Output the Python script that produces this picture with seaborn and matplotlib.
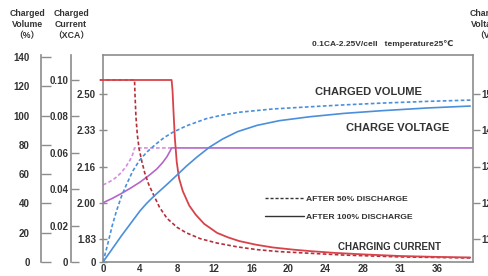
import matplotlib
matplotlib.use("Agg")
import matplotlib.pyplot as plt
import seaborn as sns
import pandas as pd
from matplotlib.lines import Line2D

# ---------------- data ----------------
hour_ticks = [0, 4, 8, 12, 16, 20, 24, 28, 32, 36]
hour_labels = ["0", "4", "8", "12", "16", "20", "24", "28", "31", "36"]

volume_ticks = [0, 20, 40, 60, 80, 100, 120, 140]
current_ticks = [0, 0.02, 0.04, 0.06, 0.08, 0.10]
current_labels = ["0", "0.02", "0.04", "0.06", "0.08", "0.10"]
battery_v_ticks = [11, 12, 13, 14, 15]
battery_v_labels = ["11", "12", "13", "14", "15"]
cell_v_labels = ["0", "1.83", "2.00", "2.16", "2.33", "2.50"]

# charging current (xCA)
cur100_t = [-0.3, 7.4, 7.5, 7.6, 7.75, 7.95, 8.2, 8.6, 9.3, 10.0, 10.9, 12.3, 13.5, 14.7,
            16.5, 18.3, 20.5, 22.3, 25, 28, 32, 36, 39.6]
cur100_i = [0.100, 0.100, 0.094, 0.083, 0.068, 0.055, 0.046, 0.039, 0.031, 0.026, 0.021,
            0.016, 0.0135, 0.0115, 0.0095, 0.0080, 0.0068, 0.0060, 0.0050, 0.0042, 0.0033,
            0.0028, 0.0025]
cur50_t = [-0.3, 3.4, 3.45, 3.55, 3.7, 3.9, 4.2, 4.5, 4.9, 5.35, 6.1, 6.9, 8.0, 9.0, 10.5,
           12.3, 14.5, 16.6, 19, 21.6, 26, 32, 39.6]
cur50_i = [0.100, 0.100, 0.092, 0.080, 0.070, 0.062, 0.055, 0.049, 0.043, 0.038, 0.030,
           0.024, 0.019, 0.016, 0.0128, 0.0104, 0.0083, 0.0068, 0.0057, 0.0050, 0.0038,
           0.0028, 0.0022]

# charged volume (%)
vol100_t = [0, 1, 2, 3, 4, 4.7, 5.5, 6.9, 8, 9, 10.1, 11.5, 12.9, 14.5, 16.6, 19, 22.3,
            26, 30, 35, 39.6]
vol100_v = [0, 9, 18, 26.5, 35, 40, 45, 53, 59.5, 65.5, 71.5, 78.5, 84, 89, 93.3, 96.5,
            99.2, 101.5, 103.3, 105.2, 106.5]
vol50_t = [0, 0.5, 1, 1.46, 2, 2.54, 3.2, 3.95, 4.8, 5.8, 6.6, 7.5, 9, 11.2, 13, 14.75,
           18.3, 22.3, 26, 30, 35, 39.8]
vol50_v = [0, 12, 25, 35, 45, 53, 62, 69.6, 75.5, 81, 85, 88.5, 93, 98, 100.5, 102.3,
           104.5, 106, 107.3, 108.5, 109.7, 110.6]

# charge voltage (V/cell)
volt100_t = [0, 1, 2, 3, 4, 5, 5.8, 6.4, 6.9, 7.2, 7.4, 39.8]
volt100_v = [2.000, 2.020, 2.043, 2.068, 2.095, 2.127, 2.155, 2.183, 2.212, 2.235, 2.252,
             2.252]
volt50_t = [0, 0.5, 1, 1.46, 2, 2.5, 2.9, 3.2, 3.4, 7.4]
volt50_v = [2.082, 2.092, 2.104, 2.118, 2.140, 2.168, 2.195, 2.222, 2.252, 2.252]

# ---------------- style ----------------
sns.set_theme(style="white")
plt.rcParams["font.family"] = ["Liberation Sans", "DejaVu Sans", "Noto Sans CJK SC"]
plt.rcParams["font.weight"] = "bold"

W, H = 488, 276
fig = plt.figure(figsize=(W / 100, H / 100), dpi=100)
fig.patch.set_facecolor("white")

L, R, T, B = 103, 473, 55, 262
ax = fig.add_axes([L / W, 1 - B / H, (R - L) / W, (B - T) / H])

SPINE = "#8c8c8c"
TXT = "#333333"
RED = "#d8434a"
RED_D = "#b3303a"
BLUE = "#4a8fdc"
PURP = "#b566c8"
PURP_L = "#d48edf"

# cell-voltage scale (main axis)
px_per_v = 217.5
v_lo = battery_v_ticks[0] / 6 - (B - 239) / px_per_v
v_hi = battery_v_ticks[-1] / 6 + (94 - T) / px_per_v
ax.set_ylim(v_lo, v_hi)
ax.set_xlim(0, 39.9)

ax_cur = ax.twinx()
ax_vol = ax.twinx()
ax_bv = ax.twinx()

for a in (ax_cur, ax_vol):
    a.yaxis.set_ticks_position("left")
    a.yaxis.set_label_position("left")
    for s in ("top", "right", "bottom"):
        a.spines[s].set_visible(False)
    a.spines["left"].set_visible(True)
    a.spines["left"].set_color(SPINE)
    a.spines["left"].set_linewidth(1.2)
ax_cur.spines["left"].set_position(("axes", (71 - L) / (R - L)))
ax_vol.spines["left"].set_position(("axes", (41 - L) / (R - L)))
for s in ax_bv.spines.values():
    s.set_visible(False)

ax_cur.set_ylim(0, 0.10 + (80 - T) / 1820)
ax_vol.set_ylim(0, 140 + (57 - T) / 1.4643)
ax_bv.set_ylim(v_lo * 6, v_hi * 6)

for s in ax.spines.values():
    s.set_color(SPINE)
    s.set_linewidth(1.2)

# ticks
ax.set_xticks(hour_ticks)
ax.set_xticklabels(hour_labels)
ax.set_yticks([v_lo] + [v / 6 for v in battery_v_ticks])
ax.set_yticklabels(cell_v_labels)
ax_cur.set_yticks(current_ticks)
ax_cur.set_yticklabels(current_labels)
ax_vol.set_yticks(volume_ticks)
ax_bv.set_yticks(battery_v_ticks)
ax_bv.set_yticklabels(battery_v_labels)

tp = dict(colors=SPINE, labelcolor=TXT, labelsize=7, width=1.0)
ax.tick_params(axis="x", direction="in", length=5, pad=1.5, **tp)
ax.tick_params(axis="y", direction="inout", length=6, pad=2, **tp)
ax_cur.tick_params(axis="y", direction="in", length=6, pad=2, **tp)
ax_vol.tick_params(axis="y", direction="in", length=7, pad=8, **tp)
ax_bv.tick_params(axis="y", direction="out", length=5, pad=1.2, **tp)

for a in (ax, ax_cur, ax_vol, ax_bv):
    a.set_xlabel("")
    a.set_ylabel("")
    a.grid(False)

dash = (0, (2.2, 1.4))

# ---------------- curves ----------------
sns.lineplot(x=cur50_t, y=cur50_i, ax=ax_cur, color=RED_D, linestyle=dash, lw=1.2,
             estimator=None, sort=False)
sns.lineplot(x=cur100_t, y=cur100_i, ax=ax_cur, color=RED, lw=1.3,
             estimator=None, sort=False)
for ln in ax_cur.lines:
    ln.set_clip_on(False)
    ln.set_solid_joinstyle("round")

sns.lineplot(x=vol50_t, y=vol50_v, ax=ax_vol, color=BLUE, linestyle=dash, lw=1.2,
             estimator=None, sort=False)
sns.lineplot(x=vol100_t, y=vol100_v, ax=ax_vol, color=BLUE, lw=1.2,
             estimator=None, sort=False)

sns.lineplot(x=volt50_t, y=volt50_v, ax=ax, color=PURP_L, linestyle=dash, lw=1.2,
             estimator=None, sort=False)
sns.lineplot(x=volt100_t, y=volt100_v, ax=ax, color=PURP, lw=1.2,
             estimator=None, sort=False)

# ---------------- annotations ----------------
def px(x, y):
    return x / W, 1 - y / H

fig.text(*px(368, 92), "CHARGED VOLUME", ha="center", va="center", fontsize=8, color=TXT)
fig.text(*px(398, 128), "CHARGE VOLTAGE", ha="center", va="center", fontsize=8, color=TXT)
fig.text(*px(389, 246.5), "CHARGING CURRENT", ha="center", va="center", fontsize=7, color=TXT)
fig.text(*px(383, 44), "0.1CA-2.25V/cell   temperature25\u2103", ha="center", va="center",
         fontsize=6, color=TXT)

hdr = dict(ha="center", va="top", fontsize=6.3, color=TXT, linespacing=1.3)
fig.text(*px(27, 9), "Charged\nVolume\n\uff08%\uff09", **hdr)
fig.text(*px(71, 9), "Charged\nCurrent\n\uff08XCA\uff09", **hdr)
fig.text(*px(487, 9), "Charged\nVoltage\n\uff08V\uff09", **hdr)

handles = [Line2D([], [], color="#333333", lw=1.0, linestyle=dash),
           Line2D([], [], color="#333333", lw=1.0)]
leg = ax_bv.legend(handles, ["AFTER 50% DISCHARGE", "AFTER 100% DISCHARGE"],
                   loc="upper left", bbox_to_anchor=((265 - L) / (R - L), (B - 195) / (B - T)),
                   frameon=False, fontsize=6.1, handlelength=4.6, handletextpad=0.25,
                   labelspacing=1.25, borderpad=0, borderaxespad=0)
for t in leg.get_texts():
    t.set_color(TXT)

fig.savefig("out.png", dpi=100, facecolor="white")
